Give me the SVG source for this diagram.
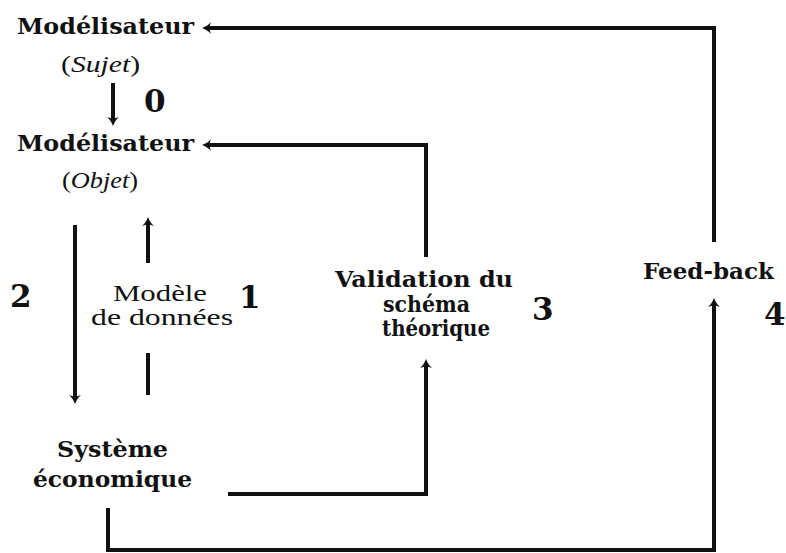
<svg xmlns="http://www.w3.org/2000/svg" width="786" height="553" viewBox="0 0 786 553">
  <style>
    text { fill: #111; }
    .b { font-family: "DejaVu Serif", serif; font-weight: 700; }
    .r { font-family: "Liberation Serif", serif; font-weight: 400; }
    .i { font-style: italic; }
    .wire { fill: none; stroke: #111; stroke-width: 4; stroke-linejoin: miter; }
  </style>
  <defs>
    <marker id="head" markerUnits="userSpaceOnUse" markerWidth="16" markerHeight="16" viewBox="-12 -8 16 16" refX="-5" refY="0" orient="auto">
      <path d="M1,0 C-3,-1.5 -6,-3.5 -8,-6 L-6,0 L-8,6 C-6,3.5 -3,1.5 1,0 Z" fill="#111"/>
    </marker>
  </defs>
  <rect width="786" height="553" fill="#fff"/>

  <!-- connectors -->
  <g id="connectors">
    <path class="wire" d="M714,242 V28 H208" marker-end="url(#head)"/>
    <path class="wire" d="M426,257 V145 H208" marker-end="url(#head)"/>
    <path class="wire" d="M228,494 H426 V365" marker-end="url(#head)"/>
    <path class="wire" d="M108,508 V550 H714 V304" marker-end="url(#head)"/>
    <path class="wire" d="M113,83 V120" marker-end="url(#head)"/>
    <path class="wire" d="M75,225 V398" marker-end="url(#head)"/>
    <path class="wire" d="M148,263 V223" marker-end="url(#head)"/>
    <path class="wire" d="M148,353 V395"/>
  </g>

  <!-- nodes -->
  <g id="sujet">
    <text class="b" font-size="23" x="17" y="34" textLength="177" lengthAdjust="spacingAndGlyphs">Modélisateur</text>
    <text class="r" font-size="24" x="61" y="72" textLength="79" lengthAdjust="spacingAndGlyphs">(<tspan class="i">Sujet</tspan>)</text>
  </g>
  <g id="objet">
    <text class="b" font-size="23" x="17" y="151" textLength="177" lengthAdjust="spacingAndGlyphs">Modélisateur</text>
    <text class="r" font-size="24" x="62" y="188" textLength="76" lengthAdjust="spacingAndGlyphs">(<tspan class="i">Objet</tspan>)</text>
  </g>
  <g id="modele">
    <text class="r" font-size="24" x="113" y="301" textLength="94" lengthAdjust="spacingAndGlyphs">Modèle</text>
    <text class="r" font-size="24" x="91" y="325" textLength="142" lengthAdjust="spacingAndGlyphs">de données</text>
  </g>
  <g id="systeme">
    <text class="b" font-size="23" x="57" y="457" textLength="111" lengthAdjust="spacingAndGlyphs">Système</text>
    <text class="b" font-size="23" x="33" y="487" textLength="159" lengthAdjust="spacingAndGlyphs">économique</text>
  </g>
  <g id="validation">
    <text class="b" font-size="22" x="335" y="287" textLength="178" lengthAdjust="spacingAndGlyphs">Validation du</text>
    <text class="b" font-size="22" x="383" y="312" textLength="87" lengthAdjust="spacingAndGlyphs">schéma</text>
    <text class="b" font-size="22" x="382" y="336" textLength="108" lengthAdjust="spacingAndGlyphs">théorique</text>
  </g>
  <g id="feedback">
    <text class="b" font-size="23" x="643" y="279" textLength="131" lengthAdjust="spacingAndGlyphs">Feed-back</text>
  </g>

  <!-- step numbers -->
  <g id="numbers">
    <text class="b" font-size="31" x="144" y="112">0</text>
    <text class="b" font-size="31" x="239" y="308">1</text>
    <text class="b" font-size="31" x="10" y="307">2</text>
    <text class="b" font-size="31" x="532" y="320">3</text>
    <text class="b" font-size="31" x="764" y="325">4</text>
  </g>
</svg>
